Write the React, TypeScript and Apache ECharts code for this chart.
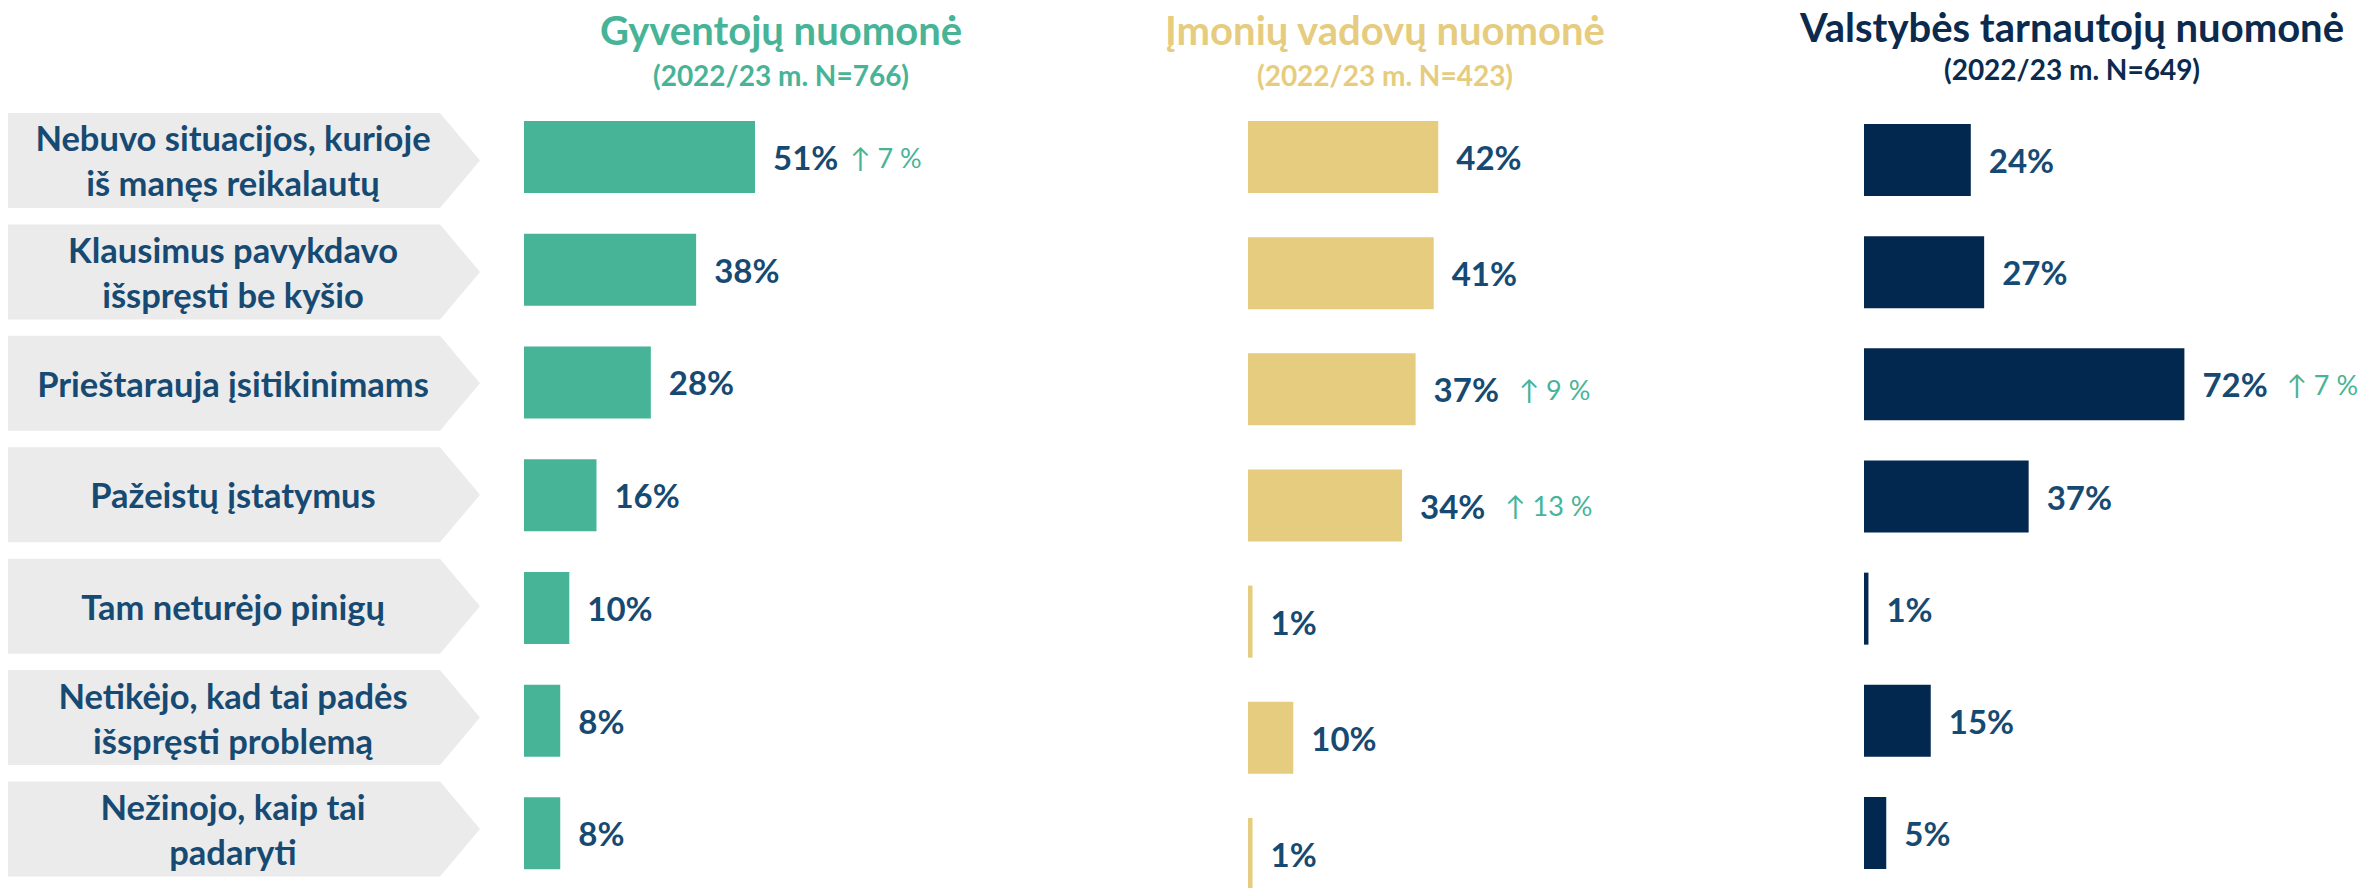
import React, { useEffect, useRef } from "react";
import * as echarts from "echarts";

const categories = [
  "Nebuvo situacijos, kurioje\niš manęs reikalautų",
  "Klausimus pavykdavo\nišspręsti be kyšio",
  "Prieštarauja įsitikinimams",
  "Pažeistų įstatymus",
  "Tam neturėjo pinigų",
  "Netikėjo, kad tai padės\nišspręsti problemą",
  "Nežinojo, kaip tai\npadaryti",
];
const residents = [51, 38, 28, 16, 10, 8, 8];
const managers = [42, 41, 37, 34, 1, 10, 1];
const servants = [24, 27, 72, 37, 1, 15, 5];
const residentsChange = [7, null, null, null, null, null, null];
const managersChange = [null, null, 9, 13, null, null, null];
const servantsChange = [null, null, 7, null, null, null, null];
const panelTitles = ["Gyventojų nuomonė", "Įmonių vadovų nuomonė", "Valstybės tarnautojų nuomonė"];
const panelSubtitles = ["(2022/23 m. N=766)", "(2022/23 m. N=423)", "(2022/23 m. N=649)"];

const FONT = 'Lato, "Noto Sans", sans-serif';
const LABEL = "#174a72";
const GREEN = "#47b497";
const GOLD = "#e6cc7e";
const NAVY = "#03284f";
const titleColors = [GREEN, GOLD, "#0b2a4d"];

export default function App() {
  const ref = useRef<HTMLDivElement>(null);
  useEffect(() => {
    const chart = echarts.init(ref.current!, null, { renderer: "svg" });
    const panels = [
      { values: residents, change: residentsChange, color: GREEN, gap: 12, grid: { left: 524, width: 453, top: 100.7, height: 789 } },
      { values: managers, change: managersChange, color: GOLD, gap: 20, grid: { left: 1248, width: 453, top: 99, height: 813 } },
      { values: servants, change: servantsChange, color: NAVY, gap: 19, grid: { left: 1864, width: 445, top: 104, height: 785 } },
    ];
    const titleCenters = [781, 1385, 2072];
    const titleY = [30, 30, 27];
    const subY = [75, 75, 69];

    const grids: any[] = [{ left: 8, width: 472, top: 104.75, height: 780, outerBoundsMode: "none" }];
    const xAxes: any[] = [{ gridIndex: 0, type: "value", min: 0, max: 1, show: false }];
    const yAxes: any[] = [{ gridIndex: 0, type: "category", data: categories, inverse: true, show: false }];
    const series: any[] = [
      {
        type: "custom",
        xAxisIndex: 0,
        yAxisIndex: 0,
        data: categories.map((_, i) => [0, i]),
        renderItem: (params: any, api: any) => {
          const cs = params.coordSys;
          const y = api.coord([0, api.value(1)])[1];
          const h = 95;
          const x0 = cs.x;
          const x1 = cs.x + cs.width - 40;
          const x2 = cs.x + cs.width;
          return {
            type: "group",
            children: [
              {
                type: "polygon",
                shape: { points: [[x0, y - h / 2], [x1, y - h / 2], [x2, y], [x1, y + h / 2], [x0, y + h / 2]] },
                style: { fill: "#ebebeb" },
              },
              {
                type: "text",
                x: 233,
                y: y,
                style: {
                  text: categories[params.dataIndex],
                  fill: LABEL,
                  font: `bold 34.5px ${FONT}`,
                  textAlign: "center",
                  textVerticalAlign: "middle",
                  lineHeight: 45,
                },
              },
            ],
          };
        },
      },
    ];

    panels.forEach((p, k) => {
      const gi = k + 1;
      grids.push({ ...p.grid, outerBoundsMode: "none" });
      xAxes.push({ gridIndex: gi, type: "value", min: 0, max: 100, show: false });
      yAxes.push({ gridIndex: gi, type: "category", data: categories, inverse: true, show: false });
      series.push({
        type: "bar",
        xAxisIndex: gi,
        yAxisIndex: gi,
        data: p.values,
        barWidth: 72,
        itemStyle: { color: p.color },
        label: {
          show: true,
          position: "right",
          distance: 18,
          formatter: (prm: any) => {
            const ch = p.change[prm.dataIndex];
            return ch != null ? `{v|${prm.value}%}{d|↑ ${ch} %}` : `{v|${prm.value}%}`;
          },
          rich: {
            v: { fontFamily: FONT, fontWeight: "bold", fontSize: 33, color: LABEL },
            d: { fontFamily: FONT, fontSize: 27, color: GREEN, padding: [0, 0, 0, p.gap] },
          },
        },
      });
    });

    const graphic: any[] = [];
    panelTitles.forEach((t, k) => {
      graphic.push({
        type: "text",
        x: titleCenters[k],
        y: titleY[k],
        style: { text: t, fill: titleColors[k], font: `bold 40px ${FONT}`, textAlign: "center", textVerticalAlign: "middle" },
      });
      graphic.push({
        type: "text",
        x: titleCenters[k],
        y: subY[k],
        style: { text: panelSubtitles[k], fill: titleColors[k], font: `bold 28px ${FONT}`, textAlign: "center", textVerticalAlign: "middle" },
      });
    });

    chart.setOption({
      animation: false,
      backgroundColor: "#ffffff",
      grid: grids,
      xAxis: xAxes,
      yAxis: yAxes,
      series,
      graphic,
    });
    return () => chart.dispose();
  }, []);
  return <div ref={ref} style={{ position: "fixed", left: 0, top: 0, width: 2366, height: 888 }} />;
}
